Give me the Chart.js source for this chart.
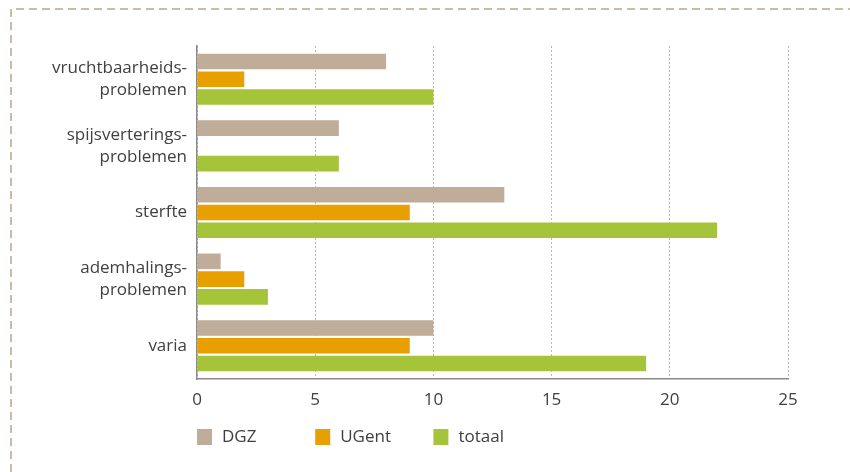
<!DOCTYPE html>
<html>
<head>
<meta charset="utf-8">
<script src="https://cdn.jsdelivr.net/npm/chart.js@4/dist/chart.umd.min.js"></script>
<style>
  html, body { margin: 0; padding: 0; background: #fff; }
  #wrap { width: 850px; height: 472px; position: relative; }
</style>
</head>
<body>
<div id="wrap"><canvas id="myChart" width="850" height="472"></canvas></div>
<script>
const categories = [
  ['vruchtbaarheids-', 'problemen'],
  ['spijsverterings-', 'problemen'],
  'sterfte',
  ['ademhalings-', 'problemen'],
  'varia'
];
const dgz = [8, 6, 13, 1, 10];
const ugent = [2, 0, 9, 2, 9];
const totaal = [10, 6, 22, 3, 19];
const xTicks = [0, 5, 10, 15, 20, 25];

const FONT = '"Open Sans", sans-serif';
const TEXT = '#404040';

// dashed frame along the top and left
const framePlugin = {
  id: 'frame',
  beforeDraw(chart) {
    const c = chart.ctx;
    c.save();
    c.strokeStyle = '#cbbba8';
    c.lineWidth = 2;
    c.setLineDash([8, 5]);
    c.beginPath();
    c.moveTo(11, 472);
    c.lineTo(11, 9);
    c.lineTo(850, 9);
    c.stroke();
    c.restore();
  }
};

// legend under the axis, one entry per dataset
const legendPlugin = {
  id: 'bottomLegend',
  afterDraw(chart) {
    const c = chart.ctx;
    const x0 = chart.scales.x.getPixelForValue(0);
    const step = chart.scales.x.getPixelForValue(5) - x0;
    c.save();
    c.font = '17px ' + FONT;
    c.textBaseline = 'middle';
    chart.data.datasets.forEach((ds, i) => {
      const x = x0 + i * step;
      c.fillStyle = ds.backgroundColor;
      c.fillRect(x, 429, 15, 16);
      c.fillStyle = TEXT;
      c.fillText(ds.label, x + 25, 437);
    });
    c.restore();
  }
};

const ctx = document.getElementById('myChart').getContext('2d');

var graphData = {
  type: 'bar',
  data: {
    labels: categories,
    datasets: [{
      label: 'DGZ',
      backgroundColor: '#bfad99',
      data: dgz
    }, {
      label: 'UGent',
      backgroundColor: '#e8a000',
      data: ugent
    }, {
      label: 'totaal',
      backgroundColor: '#a6c43a',
      data: totaal
    }]
  },
  options: {
    indexAxis: 'y',
    responsive: false,
    animation: false,
    layout: { padding: { top: 46, right: 62, bottom: 52, left: 0 } },
    datasets: {
      bar: { categoryPercentage: 0.8, barPercentage: 0.88 }
    },
    plugins: {
      legend: { display: false },
      tooltip: { enabled: false }
    },
    scales: {
      x: {
        min: 0,
        max: 25,
        afterBuildTicks(axis) { axis.ticks = xTicks.map(v => ({ value: v })); },
        afterFit(axis) { axis.height = 41; },
        grid: { color: '#b8b8b8', drawTicks: false, lineWidth: 1 },
        border: { color: '#8a8a8a', width: 1.5, dash: [2, 2] },
        ticks: { color: TEXT, padding: 11, font: { family: FONT, size: 17 } }
      },
      y: {
        afterFit(axis) { axis.width = 197; },
        grid: { display: false, drawTicks: false },
        border: { color: '#8a8a8a', width: 1.5 },
        ticks: { color: TEXT, padding: 10, font: { family: FONT, size: 17, lineHeight: 1.3 } }
      }
    }
  },
  plugins: [framePlugin, legendPlugin]
};

var myChart = new Chart(ctx, graphData);
</script>
</body>
</html>
